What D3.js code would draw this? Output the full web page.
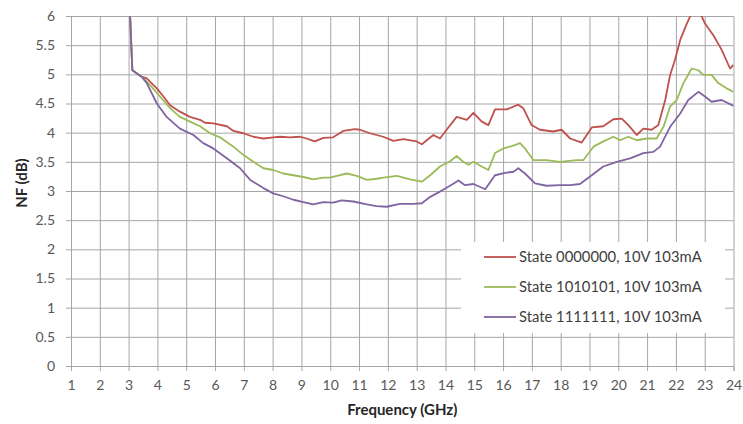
<!DOCTYPE html>
<html>
<head>
<meta charset="utf-8">
<script src="https://cdn.jsdelivr.net/npm/d3@7"></script>
<style>
  html, body { margin: 0; padding: 0; background: #fff; }
  svg { display: block; }
  text { font-family: Lato, "Open Sans", sans-serif; }
</style>
</head>
<body>
<svg id="chart" width="743" height="424"></svg>
<script>
// Axis ticks
const xTicks = d3.range(1, 25);
const yTicks = [0, 0.5, 1, 1.5, 2, 2.5, 3, 3.5, 4, 4.5, 5, 5.5, 6];

// Noise figure sweeps, one frequency/NF pair of arrays per bias state
const freqA = [3.00,3.13,3.45,3.63,3.98,4.21,4.44,4.78,5.13,5.48,5.65,5.94,6.41,6.64,6.98,7.33,7.68,8.02,8.26,8.60,8.95,9.18,9.41,9.47,9.76,10.10,10.45,10.86,11.03,11.38,11.84,12.19,12.54,13.00,13.18,13.35,13.58,13.81,14.04,14.39,14.74,14.97,15.26,15.49,15.72,16.13,16.53,16.70,16.99,17.28,17.74,18.03,18.33,18.61,18.73,19.08,19.48,19.83,20.12,20.35,20.64,20.87,21.16,21.39,21.63,21.80,21.97,22.15,22.38,22.55,22.80,22.90,23.01,23.30,23.59,23.88,24.00];
const nfA   = [6.60,5.07,4.96,4.93,4.76,4.62,4.47,4.36,4.27,4.22,4.17,4.16,4.11,4.03,3.99,3.93,3.90,3.92,3.93,3.92,3.93,3.90,3.86,3.85,3.91,3.92,4.03,4.06,4.05,3.99,3.93,3.86,3.89,3.85,3.80,3.87,3.96,3.90,4.05,4.27,4.22,4.34,4.19,4.13,4.40,4.40,4.48,4.42,4.13,4.05,4.02,4.05,3.90,3.85,3.83,4.09,4.11,4.23,4.24,4.13,3.96,4.07,4.05,4.13,4.56,4.99,5.25,5.59,5.87,6.05,6.05,5.99,5.87,5.67,5.42,5.10,5.16];

const freqB = [3.00,3.13,3.45,3.74,4.09,4.44,4.78,5.13,5.48,5.83,6.17,6.64,6.98,7.33,7.68,8.02,8.37,8.72,9.07,9.41,9.76,9.99,10.23,10.57,10.92,11.27,11.61,11.84,12.31,12.77,13.18,13.47,13.81,14.16,14.39,14.62,14.80,14.97,15.26,15.49,15.72,16.01,16.30,16.59,16.76,17.05,17.51,17.98,18.56,18.79,19.14,19.48,19.83,20.06,20.35,20.64,20.99,21.33,21.57,21.80,22.03,22.26,22.55,22.78,22.95,23.24,23.47,23.76,24.00];
const nfB   = [6.60,5.07,4.96,4.82,4.62,4.42,4.27,4.19,4.11,3.99,3.92,3.76,3.62,3.50,3.39,3.36,3.30,3.27,3.24,3.20,3.23,3.23,3.26,3.30,3.26,3.19,3.21,3.23,3.26,3.20,3.16,3.27,3.42,3.51,3.60,3.50,3.45,3.50,3.42,3.36,3.65,3.73,3.77,3.82,3.73,3.53,3.53,3.50,3.53,3.53,3.76,3.85,3.93,3.87,3.93,3.87,3.90,3.90,4.10,4.45,4.56,4.85,5.10,5.07,4.99,4.99,4.85,4.76,4.70];

const freqC = [3.00,3.13,3.45,3.63,3.98,4.32,4.78,5.25,5.59,5.94,6.41,6.87,7.22,7.68,8.02,8.37,8.72,9.07,9.41,9.76,10.10,10.40,10.80,11.27,11.61,11.96,12.42,12.89,13.18,13.47,13.81,14.16,14.45,14.68,14.97,15.38,15.72,16.07,16.36,16.53,16.76,17.11,17.51,17.98,18.33,18.67,19.02,19.48,19.95,20.41,20.87,21.22,21.45,21.80,22.15,22.43,22.78,23.01,23.24,23.59,24.00];
const nfC   = [6.60,5.07,4.96,4.85,4.50,4.27,4.07,3.96,3.82,3.73,3.56,3.39,3.19,3.05,2.96,2.91,2.85,2.81,2.77,2.81,2.80,2.84,2.82,2.77,2.74,2.73,2.78,2.78,2.79,2.90,2.99,3.09,3.18,3.10,3.12,3.03,3.27,3.31,3.33,3.39,3.30,3.13,3.09,3.10,3.10,3.12,3.25,3.42,3.50,3.56,3.65,3.67,3.76,4.10,4.33,4.56,4.70,4.62,4.53,4.56,4.46];

const seriesNames = ["State 0000000, 10V 103mA", "State 1010101, 10V 103mA", "State 1111111, 10V 103mA"];
const seriesColors = ["#c0504d", "#9bbb59", "#8064a2"];

const series = [
  { name: seriesNames[0], color: seriesColors[0], pts: freqA.map((f, i) => [f, nfA[i]]) },
  { name: seriesNames[1], color: seriesColors[1], pts: freqB.map((f, i) => [f, nfB[i]]) },
  { name: seriesNames[2], color: seriesColors[2], pts: freqC.map((f, i) => [f, nfC[i]]) }
];

const svg = d3.select("#chart");
const plot = { left: 71, right: 733.5, top: 16, bottom: 366 };

const x = d3.scaleLinear().domain([1, 24]).range([plot.left, plot.right]);
const y = d3.scaleLinear().domain([0, 6]).range([plot.bottom, plot.top]);

const gridColor = "#a6a6a6";
const tickFont = 14;

// Clip curves to the plotting area
svg.append("defs").append("clipPath").attr("id", "plotClip")
  .append("rect")
  .attr("x", plot.left).attr("y", plot.top)
  .attr("width", plot.right - plot.left).attr("height", plot.bottom - plot.top);

// Horizontal gridlines with outward tick on the left
const yAxis = d3.axisLeft(y).tickValues(yTicks).tickSize(5).tickPadding(11)
  .tickFormat(d => String(d));
const yg = svg.append("g").attr("transform", `translate(${plot.left},0)`).call(yAxis);
yg.select(".domain").attr("stroke", gridColor);
yg.selectAll(".tick line").attr("stroke", gridColor);
yg.selectAll(".tick").append("line")
  .attr("x1", 0).attr("x2", plot.right - plot.left)
  .attr("stroke", gridColor).attr("stroke-width", 1);
yg.selectAll("text").attr("fill", "#595959").attr("font-size", tickFont)
  .style("font-family", "Lato, sans-serif");

// Vertical gridlines with outward tick at the bottom
const xAxis = d3.axisBottom(x).tickValues(xTicks).tickSize(5).tickPadding(9)
  .tickFormat(d => String(d));
const xg = svg.append("g").attr("transform", `translate(0,${plot.bottom})`).call(xAxis);
xg.select(".domain").attr("stroke", gridColor);
xg.selectAll(".tick line").attr("stroke", gridColor);
xg.selectAll(".tick").append("line")
  .attr("y1", 0).attr("y2", plot.top - plot.bottom)
  .attr("stroke", gridColor).attr("stroke-width", 1);
xg.selectAll("text").attr("fill", "#595959").attr("font-size", tickFont)
  .style("font-family", "Lato, sans-serif");

// Curves
const line = d3.line().x(d => x(d[0])).y(d => y(d[1]));
svg.append("g").attr("clip-path", "url(#plotClip)")
  .selectAll("path").data(series).join("path")
  .attr("d", d => line(d.pts))
  .attr("fill", "none")
  .attr("stroke", d => d.color)
  .attr("stroke-width", 1.8)
  .attr("stroke-linejoin", "round");

// Legend on a white panel over the grid
const legend = svg.append("g");
legend.append("rect")
  .attr("x", 461).attr("y", 242).attr("width", 264).attr("height", 91)
  .attr("fill", "#fff");
const rows = legend.selectAll("g.row").data(series).join("g")
  .attr("class", "row")
  .attr("transform", (d, i) => `translate(484,${257 + i * 30})`);
rows.append("line")
  .attr("x1", 0).attr("x2", 32)
  .attr("stroke", d => d.color).attr("stroke-width", 1.8);
rows.append("text")
  .attr("x", 35).attr("dy", "0.35em")
  .attr("fill", "#404040").attr("font-size", 14.8)
  .text(d => d.name);

// Axis titles
svg.append("text")
  .attr("x", (plot.left + plot.right) / 2).attr("y", 415)
  .attr("text-anchor", "middle").attr("font-weight", "bold")
  .attr("font-size", 15).attr("fill", "#262626")
  .text("Frequency (GHz)");
svg.append("text")
  .attr("transform", `translate(27,${(plot.top + plot.bottom) / 2 - 8}) rotate(-90)`)
  .attr("text-anchor", "middle").attr("font-weight", "bold")
  .attr("font-size", 15).attr("fill", "#262626")
  .text("NF (dB)");
</script>
</body>
</html>
